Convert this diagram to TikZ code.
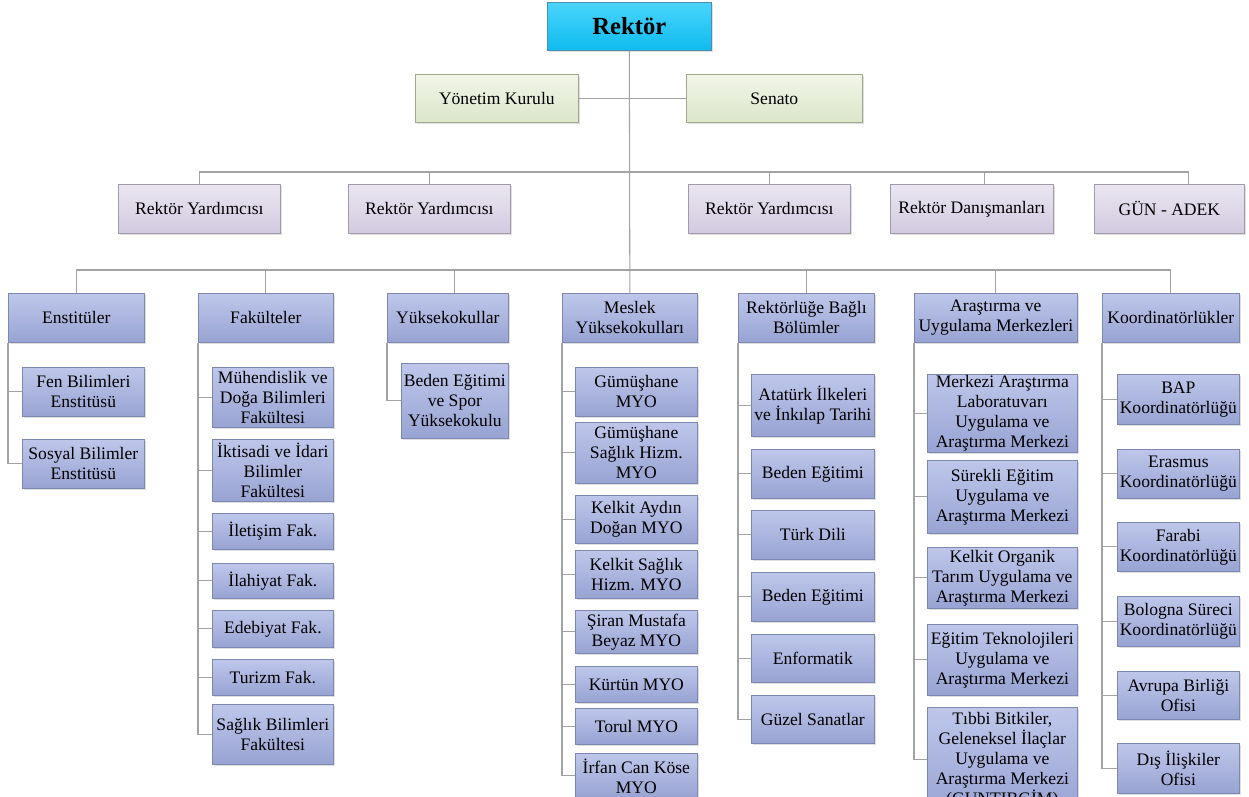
\documentclass[tikz,border=0pt]{standalone}
\usepackage{fontspec}
\setmainfont{Liberation Serif}
\usetikzlibrary{positioning, shadows}
\definecolor{linegray}{HTML}{A3A3A3}
\definecolor{rektortop}{HTML}{4AD5FC}
\definecolor{rektorbot}{HTML}{0FBBEE}
\definecolor{rektoredge}{HTML}{4A8FB0}
\definecolor{kuraltop}{HTML}{F1F5E8}
\definecolor{kuralbot}{HTML}{DCE6CA}
\definecolor{kuraledge}{HTML}{A0A890}
\definecolor{yardtop}{HTML}{EAE6F0}
\definecolor{yardbot}{HTML}{D2CAE0}
\definecolor{yardedge}{HTML}{A09AAA}
\definecolor{unittop}{HTML}{BEC7EA}
\definecolor{unitbot}{HTML}{98A3D3}
\definecolor{unitedge}{HTML}{7C88B0}
\newcommand{\pxl}{0.02cm}
\tikzstyle{basebox} = [rectangle, anchor=north west, align=center, inner xsep=1pt, inner ysep=0.5pt, font=\fontsize{10}{11.4}\selectfont, drop shadow={opacity=0.25, shadow xshift=1.2pt, shadow yshift=-1.2pt}]
\tikzstyle{rektorbox} = [basebox, draw=rektoredge, top color=rektortop, bottom color=rektorbot, font=\fontsize{14}{16}\selectfont\bfseries]
\tikzstyle{kurulbox} = [basebox, draw=kuraledge, top color=kuraltop, bottom color=kuralbot]
\tikzstyle{yardbox} = [basebox, draw=yardedge, top color=yardtop, bottom color=yardbot]
\tikzstyle{unitbox} = [basebox, draw=unitedge, top color=unittop, bottom color=unitbot]
\tikzstyle{link} = [draw=linegray, line width=0.6pt]

\begin{document}
\begin{tikzpicture}[x=\pxl, y=-\pxl]
        \useasboundingbox (0,0) rectangle (1249,796);

        % Top level
        \node (rektor) [rektorbox, minimum width=164*\pxl, minimum height=48*\pxl] at (547,2) {Rektör};
        \node (yk) [kurulbox, minimum width=163*\pxl, minimum height=48*\pxl] at (415,74) {Yönetim Kurulu};
        \node (sen) [kurulbox, minimum width=176*\pxl, minimum height=48*\pxl] at (686,74) {Senato};

        % Second row
        \node (ry1) [yardbox, minimum width=162*\pxl, minimum height=49*\pxl] at (118,184) {Rektör Yardımcısı};
        \node (ry2) [yardbox, minimum width=162*\pxl, minimum height=49*\pxl] at (348,184) {Rektör Yardımcısı};
        \node (ry3) [yardbox, minimum width=162*\pxl, minimum height=49*\pxl] at (688,184) {Rektör Yardımcısı};
        \node (rd) [yardbox, minimum width=163*\pxl, minimum height=49*\pxl] at (890,184) {Rektör Danışmanları};
        \node (gun) [yardbox, minimum width=150*\pxl, minimum height=49*\pxl] at (1094,184) {GÜN - ADEK};

        % Third row (units)
        \node (ens) [unitbox, minimum width=136*\pxl, minimum height=49*\pxl] at (8,293) {Enstitüler};
        \node (fak) [unitbox, minimum width=135*\pxl, minimum height=49*\pxl] at (198,293) {Fakülteler};
        \node (yuk) [unitbox, minimum width=121*\pxl, minimum height=49*\pxl] at (387,293) {Yüksekokullar};
        \node (mys) [unitbox, minimum width=135*\pxl, minimum height=49*\pxl] at (562,293) {Meslek\\Yüksekokulları};
        \node (rbb) [unitbox, minimum width=136*\pxl, minimum height=49*\pxl] at (738,293) {Rektörlüğe Bağlı\\Bölümler};
        \node (aum) [unitbox, minimum width=163*\pxl, minimum height=49*\pxl] at (914,293) {Araştırma ve\\Uygulama Merkezleri};
        \node (koo) [unitbox, minimum width=137*\pxl, minimum height=49*\pxl] at (1102,293) {Koordinatörlükler};

        % Enstitüler
        \node (fen) [unitbox, minimum width=122*\pxl, minimum height=49*\pxl] at (22,367) {Fen Bilimleri\\Enstitüsü};
        \node (sos) [unitbox, minimum width=122*\pxl, minimum height=49*\pxl] at (22,439) {Sosyal Bilimler\\Enstitüsü};

        % Fakülteler
        \node (muh) [unitbox, minimum width=121*\pxl, minimum height=60*\pxl] at (212,367) {Mühendislik ve\\Doğa Bilimleri\\Fakültesi};
        \node (iib) [unitbox, minimum width=121*\pxl, minimum height=62*\pxl] at (212,439) {İktisadi ve İdari\\Bilimler\\Fakültesi};
        \node (ilt) [unitbox, minimum width=121*\pxl, minimum height=36*\pxl] at (212,513) {İletişim Fak.};
        \node (ilh) [unitbox, minimum width=121*\pxl, minimum height=35*\pxl] at (212,563) {İlahiyat Fak.};
        \node (ede) [unitbox, minimum width=121*\pxl, minimum height=37*\pxl] at (212,610) {Edebiyat Fak.};
        \node (tur) [unitbox, minimum width=121*\pxl, minimum height=36*\pxl] at (212,659) {Turizm Fak.};
        \node (sag) [unitbox, minimum width=121*\pxl, minimum height=60*\pxl] at (212,704) {Sağlık Bilimleri\\Fakültesi};

        % Yüksekokullar
        \node (bes) [unitbox, minimum width=107*\pxl, minimum height=75*\pxl] at (401,363) {Beden Eğitimi\\ve Spor\\Yüksekokulu};

        % Meslek Yüksekokulları
        \node (gmyo) [unitbox, minimum width=122*\pxl, minimum height=49*\pxl] at (575,367) {Gümüşhane\\MYO};
        \node (gshm) [unitbox, minimum width=122*\pxl, minimum height=61*\pxl] at (575,422) {Gümüşhane\\Sağlık Hizm.\\MYO};
        \node (kad) [unitbox, minimum width=122*\pxl, minimum height=48*\pxl] at (575,495) {Kelkit Aydın\\Doğan MYO};
        \node (ksh) [unitbox, minimum width=122*\pxl, minimum height=48*\pxl] at (575,550) {Kelkit Sağlık\\Hizm. MYO};
        \node (smb) [unitbox, minimum width=122*\pxl, minimum height=43*\pxl] at (575,610) {Şiran Mustafa\\Beyaz MYO};
        \node (kur) [unitbox, minimum width=122*\pxl, minimum height=36*\pxl] at (575,666) {Kürtün MYO};
        \node (tor) [unitbox, minimum width=122*\pxl, minimum height=36*\pxl] at (575,708) {Torul MYO};
        \node (ick) [unitbox, minimum width=122*\pxl, minimum height=45*\pxl] at (575,753) {İrfan Can Köse\\MYO};

        % Rektörlüğe Bağlı Bölümler
        \node (ata) [unitbox, minimum width=123*\pxl, minimum height=62*\pxl] at (751,374) {Atatürk İlkeleri\\ve İnkılap Tarihi};
        \node (be1) [unitbox, minimum width=123*\pxl, minimum height=49*\pxl] at (751,449) {Beden Eğitimi};
        \node (tdl) [unitbox, minimum width=123*\pxl, minimum height=49*\pxl] at (751,510) {Türk Dili};
        \node (be2) [unitbox, minimum width=123*\pxl, minimum height=49*\pxl] at (751,572) {Beden Eğitimi};
        \node (enf) [unitbox, minimum width=123*\pxl, minimum height=48*\pxl] at (751,634) {Enformatik};
        \node (gsn) [unitbox, minimum width=123*\pxl, minimum height=48*\pxl] at (751,695) {Güzel Sanatlar};

        % Araştırma ve Uygulama Merkezleri
        \node (mar) [unitbox, minimum width=150*\pxl, minimum height=75*\pxl] at (927,374) {Merkezi Araştırma\\Laboratuvarı\\Uygulama ve\\Araştırma Merkezi};
        \node (seu) [unitbox, minimum width=150*\pxl, minimum height=73*\pxl] at (927,460) {Sürekli Eğitim\\Uygulama ve\\Araştırma Merkezi};
        \node (kot) [unitbox, minimum width=150*\pxl, minimum height=61*\pxl] at (927,547) {Kelkit Organik\\Tarım Uygulama ve\\Araştırma Merkezi};
        \node (etu) [unitbox, minimum width=150*\pxl, minimum height=71*\pxl] at (927,624) {Eğitim Teknolojileri\\Uygulama ve\\Araştırma Merkezi};
        \node (tbb) [unitbox, minimum width=150*\pxl, minimum height=105*\pxl] at (927,707) {Tıbbi Bitkiler,\\Geleneksel İlaçlar\\Uygulama ve\\Araştırma Merkezi\\(GUNTIBGİM)};

        % Koordinatörlükler
        \node (bap) [unitbox, minimum width=122*\pxl, minimum height=50*\pxl] at (1117,374) {BAP\\Koordinatörlüğü};
        \node (era) [unitbox, minimum width=122*\pxl, minimum height=49*\pxl] at (1117,449) {Erasmus\\Koordinatörlüğü};
        \node (far) [unitbox, minimum width=122*\pxl, minimum height=49*\pxl] at (1117,522) {Farabi\\Koordinatörlüğü};
        \node (bol) [unitbox, minimum width=122*\pxl, minimum height=50*\pxl] at (1117,596) {Bologna Süreci\\Koordinatörlüğü};
        \node (avr) [unitbox, minimum width=122*\pxl, minimum height=48*\pxl] at (1117,671) {Avrupa Birliği\\Ofisi};
        \node (dis) [unitbox, minimum width=122*\pxl, minimum height=50*\pxl] at (1117,743) {Dış İlişkiler\\Ofisi};

        % Bus lines
        \coordinate (bustwo) at (0,172);
        \coordinate (busthree) at (0,270);

        % Main trunk and boards
        \draw [link] (rektor.south) -- (mys.north);
        \draw [link] (yk.east) -- (sen.west);

        % Second row connectors
        \draw [link] (ry1.north) -- (ry1.north |- bustwo) -| ([xshift=19*\pxl]gun.north);
        \draw [link] (ry2.north) -- (ry2.north |- bustwo);
        \draw [link] (ry3.north) -- (ry3.north |- bustwo);
        \draw [link] ([xshift=13*\pxl]rd.north) -- ([xshift=13*\pxl]rd.north |- bustwo);

        % Third row connectors
        \draw [link] (ens.north) -- (ens.north |- busthree) -| (koo.north);
        \draw [link] (fak.north) -- (fak.north |- busthree);
        \draw [link] ([xshift=7*\pxl]yuk.north) -- ([xshift=7*\pxl]yuk.north |- busthree);
        \draw [link] (rbb.north) -- (rbb.north |- busthree);
        \draw [link] (aum.north) -- (aum.north |- busthree);

        % Children connectors
        \foreach \kid in {fen, sos} \draw [link] (ens.south west) |- (\kid.west);
        \foreach \kid in {muh, iib, ilt, ilh, ede, tur, sag} \draw [link] (fak.south west) |- (\kid.west);
        \draw [link] (yuk.south west) |- (bes.west);
        \foreach \kid in {gmyo, gshm, kad, ksh, smb, kur, tor, ick} \draw [link] (mys.south west) |- (\kid.west);
        \foreach \kid in {ata, be1, tdl, be2, enf, gsn} \draw [link] (rbb.south west) |- (\kid.west);
        \foreach \kid in {mar, seu, kot, etu, tbb} \draw [link] (aum.south west) |- (\kid.west);
        \foreach \kid in {bap, era, far, bol, avr, dis} \draw [link] (koo.south west) |- (\kid.west);

    \end{tikzpicture}
\end{document}
